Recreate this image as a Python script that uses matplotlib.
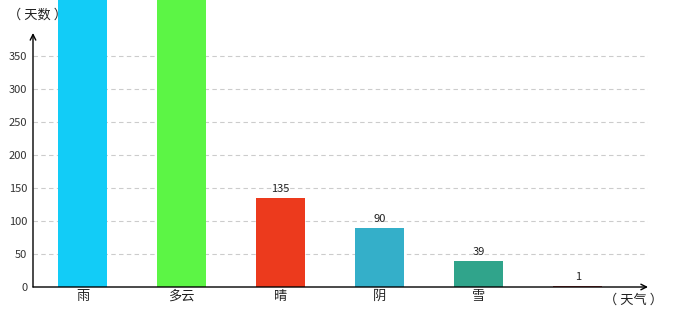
import matplotlib
matplotlib.use("Agg")
import matplotlib.pyplot as plt

plt.rcParams['font.family'] = ['Noto Sans CJK SC', 'DejaVu Sans']

categories = ["雨", "多云", "晴", "阴", "雪", ""]
values = [800, 760, 135, 90, 39, 1]
colors = ["#12CCF7", "#5CF545", "#EC3A1D", "#34AFC9", "#30A48B", "#A83C3C"]
yticks = [0, 50, 100, 150, 200, 250, 300, 350]

W, H = 680, 320
fig = plt.figure(figsize=(W/100, H/100), dpi=100)
ax_left, ax_right, ax_bottom = 33, 648, 287
ax = fig.add_axes([ax_left/W, (H-ax_bottom)/H, (ax_right-ax_left)/W, ax_bottom/H])
ymax = 435
ax.set_ylim(0, ymax)
ax.set_xlim(-0.5, 5.71)
for s in ax.spines.values():
    s.set_visible(False)

for y in yticks[1:]:
    ax.axhline(y, color="#cccccc", lw=0.8, ls=(0, (4, 3)), zorder=0)

x = list(range(len(categories)))
ax.bar(x, values, width=0.5, color=colors, zorder=2, clip_on=True)
for xi, v in zip(x, values):
    if v < ymax:
        ax.text(xi, v + 6, str(v), ha="center", va="bottom", fontsize=8,
                color="#222222", zorder=3)

ax.set_xticks(x)
ax.set_xticklabels(categories, fontsize=9.5, color="#222222")
ax.tick_params(axis="x", length=0, pad=2)
ax.set_yticks(yticks)
ax.set_yticklabels([str(t) for t in yticks], fontsize=8, color="#333333")
ax.tick_params(axis="y", length=0, pad=4)

# axis lines with arrows
ax.annotate("", xy=(5.71, 0), xytext=(-0.5, 0),
            arrowprops=dict(arrowstyle="->", color="black", lw=1, shrinkA=0, shrinkB=0),
            annotation_clip=False, zorder=5)
ax.annotate("", xy=(-0.5, 385), xytext=(-0.5, 0),
            arrowprops=dict(arrowstyle="->", color="black", lw=1, shrinkA=0, shrinkB=0),
            annotation_clip=False, zorder=5)

fig.text(38/W, 1 - 15/H, "（ 天数 ）", ha="center", va="center", fontsize=9.5, color="#222222", zorder=0)
fig.text(634/W, 1 - 300/H, "（ 天气 ）", ha="center", va="center", fontsize=9.5, color="#222222")

fig.savefig("out.png", dpi=100)
